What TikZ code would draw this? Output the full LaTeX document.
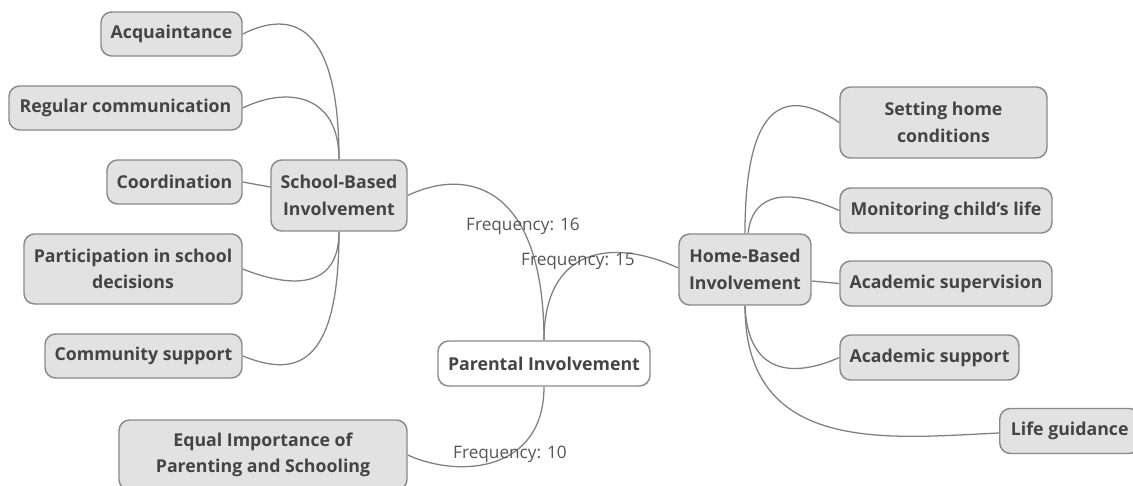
\documentclass[tikz,border=0pt]{standalone}
\usepackage{fontspec}
\setmainfont{Open Sans}
\definecolor{nodefill}{HTML}{E2E2E2}
\definecolor{nodeline}{HTML}{8A8A8A}
\definecolor{txt}{HTML}{444444}
\definecolor{ftxt}{HTML}{555555}
\definecolor{edge}{HTML}{7F7F7F}
\tikzset{
  box/.style={draw=nodeline, fill=nodefill, line width=1.1pt, rounded corners=8pt,
    text=txt, font=\fontsize{13.3}{20}\selectfont\bfseries, align=center, inner sep=0pt},
  rootbox/.style={box, fill=white},
  conn/.style={draw=edge, line width=0.95pt},
  freq/.style={text=ftxt, font=\fontsize{12.9}{14}\selectfont, inner sep=0pt}
}
\begin{document}
\begin{tikzpicture}[x=0.75pt,y=-0.75pt]
\useasboundingbox (0,0) rectangle (1133,486);
% nodes
\node[box, minimum width=141*0.75pt, minimum height=44*0.75pt] (acq) at (171.5,34) {Acquaintance};
\node[box, minimum width=233*0.75pt, minimum height=44*0.75pt] (reg) at (125.5,108) {Regular communication};
\node[box, minimum width=135*0.75pt, minimum height=44*0.75pt] (coo) at (174.5,182) {Coordination};
\node[box, minimum width=136*0.75pt, minimum height=71*0.75pt] (sch) at (339,195.5) {School-Based\\Involvement};
\node[box, minimum width=218*0.75pt, minimum height=70*0.75pt] (par) at (133,269) {Participation in school\\decisions};
\node[box, minimum width=197*0.75pt, minimum height=44*0.75pt] (com) at (143.5,356) {Community support};
\node[rootbox, minimum width=212*0.75pt, minimum height=45*0.75pt] (root) at (544,363.5) {Parental Involvement};
\node[box, minimum width=288*0.75pt, minimum height=70*0.75pt] (equ) at (263,455) {Equal Importance of\\Parenting and Schooling};
\node[box, minimum width=132*0.75pt, minimum height=71*0.75pt] (hom) at (745,269.5) {Home-Based\\Involvement};
\node[box, minimum width=207*0.75pt, minimum height=71*0.75pt] (set) at (943.5,122.5) {Setting home\\conditions};
\node[box, minimum width=212*0.75pt, minimum height=45*0.75pt] (mon) at (946,210.5) {Monitoring child\char"27 s life};
\node[box, minimum width=212*0.75pt, minimum height=45*0.75pt] (sup) at (946,283.5) {Academic supervision};
\node[box, minimum width=179*0.75pt, minimum height=45*0.75pt] (aca) at (929.5,357.5) {Academic support};
\node[box, minimum width=140*0.75pt, minimum height=45*0.75pt, anchor=west] (life) at (999,431) {Life guidance};
% edges
\draw[conn] (sch.north) .. controls +(0,-135) and +(50,-25) .. (acq.east);
\draw[conn] (sch.north) .. controls +(0,-65) and +(45,-22) .. (reg.east);
\draw[conn] ([yshift=8.5*0.75pt]sch.west) -- (coo.east);
\draw[conn] (sch.south) .. controls +(0,60) and +(45,18) .. (par.east);
\draw[conn] (sch.south) .. controls +(0,140) and +(50,20) .. (com.east);
\draw[conn] (root.north) .. controls +(0,-151) and +(63,-30) .. (sch.east);
\draw[conn] (root.north) .. controls +(0,-92) and +(-67,-31) .. ([yshift=1.5*0.75pt]hom.west);
\draw[conn] (root.south) .. controls +(0,84) and +(53,24) .. (equ.east);
\draw[conn] (hom.north) .. controls +(0,-145) and +(-45,-30) .. (set.west);
\draw[conn] ([xshift=3*0.75pt]hom.north) .. controls +(5,-42) and +(-50,-22) .. (mon.west);
\draw[conn] ([yshift=-11.5*0.75pt]hom.east) -- (sup.west);
\draw[conn] (hom.south) .. controls +(3,70) and +(-45,20) .. (aca.west);
\draw[conn] (hom.south) .. controls +(0,150) and +(-110,5) .. ([yshift=-2*0.75pt]life.west);
% labels
\node[freq] (f16) at (523,226) {Frequency: 16};
\node[freq] (f15) at (578,261) {Frequency: 15};
\node[freq] (f10) at (510,454) {Frequency: 10};
\end{tikzpicture}
\end{document}
